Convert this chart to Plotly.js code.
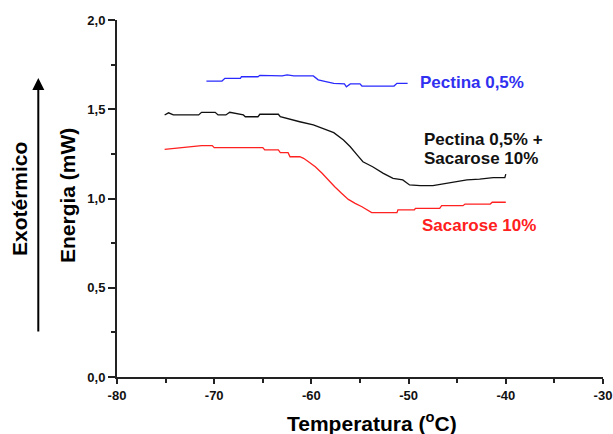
<!DOCTYPE html>
<html>
<head>
<meta charset="utf-8">
<script src="https://cdn.plot.ly/plotly-3.0.1.min.js"></script>
<style>html,body{margin:0;padding:0;background:#fff;}#chart{width:613px;height:434px;}</style>
</head>
<body>
<div id="chart"></div>
<script>
// Pectina 0,5% (blue)
const pecX = [-70.8, -69.2, -68.9, -67.3, -67.2, -65.5, -65.3, -63.0, -62.5, -61.8, -59.8, -59.3, -58.4, -57.7, -56.6, -56.4, -56.0, -55.0, -54.8, -51.5, -51.2, -50.1];
const pecY = [1.658, 1.658, 1.673, 1.673, 1.682, 1.682, 1.690, 1.687, 1.692, 1.687, 1.687, 1.665, 1.654, 1.645, 1.642, 1.626, 1.642, 1.642, 1.630, 1.630, 1.645, 1.645];

// Pectina 0,5% + Sacarose 10% (black)
const mixX = [-75.1, -74.7, -74.2, -71.6, -71.3, -69.9, -69.6, -68.8, -68.4, -67.0, -66.8, -65.5, -65.3, -63.4, -63.2, -62.2, -61.2, -59.8, -58.8, -57.7, -56.7, -56.0, -55.3, -54.7, -53.7, -52.6, -51.6, -50.6, -49.9, -48.8, -47.5, -46.1, -45.1, -44.0, -42.7, -41.3, -40.1, -40.0];
const mixY = [1.468, 1.480, 1.468, 1.468, 1.483, 1.483, 1.468, 1.468, 1.483, 1.468, 1.458, 1.458, 1.472, 1.472, 1.458, 1.443, 1.430, 1.412, 1.393, 1.369, 1.328, 1.290, 1.244, 1.206, 1.178, 1.141, 1.113, 1.104, 1.076, 1.072, 1.072, 1.085, 1.094, 1.104, 1.109, 1.117, 1.117, 1.137];

// Sacarose 10% (red)
const sacX = [-75.1, -73.2, -71.3, -70.2, -70.0, -65.0, -64.8, -63.4, -63.2, -62.4, -62.2, -61.2, -60.8, -60.3, -59.6, -58.9, -58.3, -57.6, -56.9, -56.2, -55.5, -54.8, -53.8, -51.2, -51.1, -49.4, -49.3, -46.8, -46.6, -44.4, -44.2, -41.6, -41.4, -40.0];
const sacY = [1.275, 1.285, 1.296, 1.296, 1.285, 1.285, 1.272, 1.272, 1.257, 1.257, 1.234, 1.234, 1.225, 1.206, 1.178, 1.141, 1.104, 1.066, 1.029, 0.995, 0.973, 0.954, 0.921, 0.921, 0.936, 0.936, 0.945, 0.945, 0.960, 0.960, 0.969, 0.969, 0.979, 0.979];

const xTitle = 'Temperatura (<sup>o</sup>C)';
const yTitle = 'Energia (mW)';
const sideLabel = 'Exotérmico';
const labelPec = 'Pectina 0,5%';
const labelMix1 = 'Pectina 0,5% +';
const labelMix2 = 'Sacarose 10%';
const labelSac = 'Sacarose 10%';

const W = 613, H = 434;
const M = {l: 117, r: 10, t: 20, b: 57};
const pw = W - M.l - M.r, ph = H - M.t - M.b;
const px = v => (v - M.l) / pw;
const py = v => (H - M.b - v) / ph;

const font = 'Liberation Sans, Arial, sans-serif';

const traces = [
  {x: pecX, y: pecY, mode: 'lines', line: {color: '#2a2aff', width: 1.3}, name: labelPec},
  {x: mixX, y: mixY, mode: 'lines', line: {color: '#111111', width: 1.3}, name: labelMix1 + ' ' + labelMix2},
  {x: sacX, y: sacY, mode: 'lines', line: {color: '#ff2020', width: 1.3}, name: labelSac}
];

const axisCommon = {
  showgrid: false, zeroline: false, showline: true, linecolor: '#222', linewidth: 2,
  ticks: 'outside', tickcolor: '#222', tickwidth: 2, mirror: false,
  ticklabeloverflow: 'allow',
  tickfont: {family: font, size: 13, color: '#111', weight: 'bold'}
};

const layout = {
  width: W, height: H,
  margin: M,
  paper_bgcolor: '#fff', plot_bgcolor: '#fff',
  showlegend: false,
  separators: ',.',
  xaxis: Object.assign({}, axisCommon, {
    range: [-80, -30], tickmode: 'array',
    tickvals: [-80, -70, -60, -50, -40, -30], ticktext: ['-80', '-70', '-60', '-50', '-40', '-30'],
    ticklen: 5,
    minor: {tickmode: 'array', tickvals: [-75, -65, -55, -45, -35], ticks: 'outside', ticklen: 4, tickwidth: 2, tickcolor: '#222'}
  }),
  yaxis: Object.assign({}, axisCommon, {
    range: [0, 2], dtick: 0.5, tick0: 0, ticklen: 7, tickformat: '.1f',
    minor: {dtick: 0.25, tick0: 0, ticks: 'outside', ticklen: 4, tickwidth: 2, tickcolor: '#222'}
  }),
  annotations: [
    {xref: 'paper', yref: 'paper', x: px(372), y: py(422), text: '<b>' + xTitle + '</b>', showarrow: false,
     xanchor: 'center', yanchor: 'middle', font: {family: font, size: 21, color: '#000'}},
    {xref: 'paper', yref: 'paper', x: px(67), y: py(196), text: '<b>' + yTitle + '</b>', showarrow: false, textangle: -90,
     xanchor: 'center', yanchor: 'middle', font: {family: font, size: 21, color: '#000'}},
    {xref: 'paper', yref: 'paper', x: px(19), y: py(199), text: '<b>' + sideLabel + '</b>', showarrow: false, textangle: -90,
     xanchor: 'center', yanchor: 'middle', font: {family: font, size: 21, color: '#000'}},
    {xref: 'paper', yref: 'paper', x: px(38.3), y: py(78), text: '', showarrow: true,
     axref: 'pixel', ayref: 'pixel', ax: 0, ay: 255, arrowhead: 2, arrowsize: 1.2, arrowwidth: 2, arrowcolor: '#000'},
    {xref: 'paper', yref: 'paper', x: px(418), y: py(82), text: '<b>' + labelPec + '</b>', showarrow: false,
     xanchor: 'left', yanchor: 'middle', font: {family: font, size: 17, color: '#3030f0'}},
    {xref: 'paper', yref: 'paper', x: px(422), y: py(139), text: '<b>' + labelMix1 + '</b>', showarrow: false,
     xanchor: 'left', yanchor: 'middle', font: {family: font, size: 17, color: '#111'}},
    {xref: 'paper', yref: 'paper', x: px(422), y: py(159), text: '<b>' + labelMix2 + '</b>', showarrow: false,
     xanchor: 'left', yanchor: 'middle', font: {family: font, size: 17, color: '#111'}},
    {xref: 'paper', yref: 'paper', x: px(420), y: py(226), text: '<b>' + labelSac + '</b>', showarrow: false,
     xanchor: 'left', yanchor: 'middle', font: {family: font, size: 17, color: '#ff2020'}}
  ]
};

Plotly.newPlot('chart', traces, layout, {displayModeBar: false, staticPlot: true});
</script>
</body>
</html>
